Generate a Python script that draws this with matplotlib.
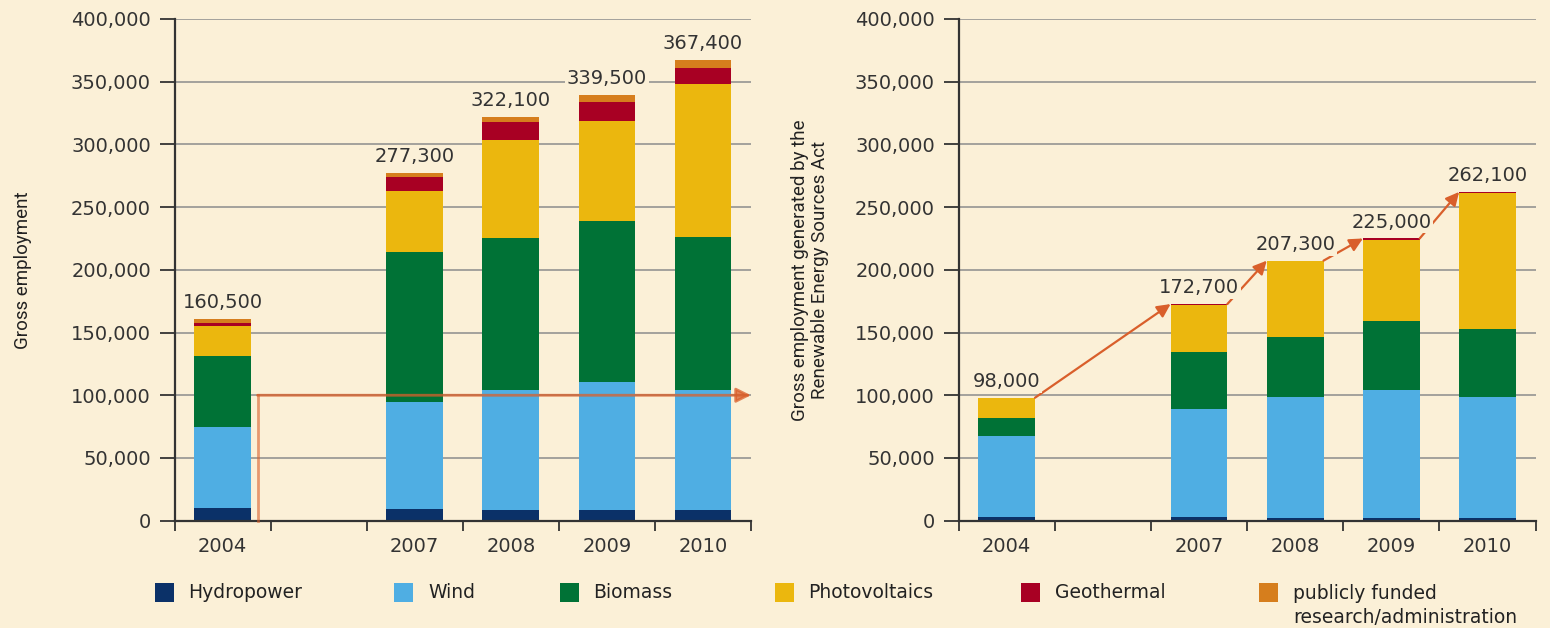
import numpy as np
import matplotlib
matplotlib.use("Agg")
import matplotlib.pyplot as plt
from matplotlib.patches import Rectangle
from matplotlib.ticker import FuncFormatter

# categories (slot 1 stays empty: gap for 2005/2006)
years = ['2004', '2007', '2008', '2009', '2010']
slots = [0, 2, 3, 4, 5]

# gross employment by source (persons)
gross_hydro = [10100, 9100, 8300, 8300, 8300]
gross_wind = [64600, 85800, 95900, 102000, 95900]
gross_biomass = [56600, 119300, 121400, 128400, 122200]
gross_pv = [24200, 48900, 77700, 80200, 121500]
gross_geo = [1900, 10700, 14800, 14900, 13100]
gross_research = [3100, 3500, 4000, 5700, 6400]

# employment generated by the Renewable Energy Sources Act
eeg_hydro = [3200, 3200, 1900, 1900, 1900]
eeg_wind = [64600, 85600, 96500, 102300, 96500]
eeg_biomass = [13800, 45500, 47800, 55000, 54700]
eeg_pv = [16100, 38000, 60600, 64300, 108400]
eeg_geo = [300, 400, 500, 1500, 600]

legend_labels = ['Hydropower', 'Wind', 'Biomass', 'Photovoltaics', 'Geothermal',
                 'publicly funded\nresearch/administration']
colors = ['#0b3168', '#4faee3', '#007236', '#ebb70e', '#a80023', '#d67e1d']

BG = '#fbf0d7'
DARK = '#333333'
ARROW = '#d95f2b'
BAR_W = 0.59

plt.rcParams['font.family'] = ['DejaVu Sans']

fig = plt.figure(figsize=(15.5, 6.28), dpi=100, facecolor=BG)
ax1 = fig.add_axes([0.1126, 0.1709, 0.3719, 0.7989])
ax2 = fig.add_axes([0.6184, 0.1709, 0.3723, 0.7989])


def style_axis(ax):
    ax.set_facecolor(BG)
    ax.set_xlim(-0.5, 5.5)
    ax.set_ylim(0, 400000)
    ax.set_yticks(np.arange(0, 400001, 50000))
    ax.yaxis.set_major_formatter(FuncFormatter(lambda v, p: f'{v:,.0f}'))
    ax.set_xticks(slots)
    ax.set_xticklabels(years)
    ax.set_xticks(np.arange(-0.5, 6, 1), minor=True)
    ax.tick_params(axis='x', which='major', length=0, pad=12, labelsize=14, labelcolor=DARK)
    ax.tick_params(axis='x', which='minor', length=7, width=1.3, color=DARK, direction='out')
    ax.tick_params(axis='y', length=11, width=1.3, color=DARK, pad=6, labelsize=14,
                   labelcolor=DARK, direction='out')
    ax.grid(axis='y', color='#8c8c8c', lw=1.1)
    ax.set_axisbelow(True)
    for s in ['top', 'right']:
        ax.spines[s].set_visible(False)
    for s in ['left', 'bottom']:
        ax.spines[s].set_color(DARK)
        ax.spines[s].set_linewidth(1.6)


def stacked(ax, layers):
    bottom = np.zeros(len(slots))
    for vals, col in zip(layers, colors):
        ax.bar(slots, vals, BAR_W, bottom=bottom, color=col, zorder=2)
        bottom += np.array(vals)
    return bottom


def total_labels(ax, totals):
    for x, t in zip(slots, totals):
        ax.annotate(f'{int(round(t)):,}', (x, t), xytext=(0, 5), textcoords='offset points',
                    ha='center', va='bottom', fontsize=14, color=DARK, zorder=5,
                    bbox=dict(boxstyle='square,pad=0.1', fc=BG, ec='none'))


style_axis(ax1)
style_axis(ax2)

tot1 = stacked(ax1, [gross_hydro, gross_wind, gross_biomass, gross_pv, gross_geo, gross_research])
tot2 = stacked(ax2, [eeg_hydro, eeg_wind, eeg_biomass, eeg_pv, eeg_geo])
total_labels(ax1, tot1)
total_labels(ax2, tot2)

# left chart: bracket pointing over to the EEG chart
ax1.plot([0.364, 0.364], [0, 100000], color=ARROW, lw=2, alpha=0.6, zorder=3, clip_on=False)
ax1.annotate('', xy=(5.5, 100000), xytext=(0.364, 100000),
             arrowprops=dict(arrowstyle='-|>', color=ARROW, lw=2, alpha=0.75,
                             mutation_scale=22, shrinkA=0, shrinkB=0),
             zorder=3, annotation_clip=False)

# right chart: growth arrows from bar top to next bar top
for i in range(len(slots) - 1):
    ax2.annotate('', xy=(slots[i + 1] - BAR_W / 2, tot2[i + 1]),
                 xytext=(slots[i] + BAR_W / 2, tot2[i]),
                 arrowprops=dict(arrowstyle='-|>', color=ARROW, lw=1.6,
                                 mutation_scale=20, shrinkA=0, shrinkB=0),
                 zorder=4)

narrow = ['Roboto', 'DejaVu Sans']
fig.text(23 / 1550, 0.570, 'Gross employment', rotation=90, ha='center', va='center',
         fontsize=13.5, family=narrow, color='#222222')
fig.text(810 / 1550, 0.570, 'Gross employment generated by the\nRenewable Energy Sources Act',
         rotation=90, ha='center', va='center', fontsize=13.5, family=narrow,
         color='#222222', linespacing=1.2)

# legend row
sq_x = [154.5, 394, 559.5, 774.6, 1021, 1259]
for x, lab, col in zip(sq_x, legend_labels, colors):
    fig.patches.append(Rectangle((x / 1550, (628 - 602) / 628), 19 / 1550, 19 / 628,
                                 transform=fig.transFigure, fc=col, ec='none'))
    yc = 605.5 if '\n' in lab else 592.5
    fig.text((x + 34) / 1550, (628 - yc) / 628, lab, ha='left', va='center',
             fontsize=13.5, color='#222222', linespacing=1.3)

fig.savefig('out.png', dpi=100, facecolor=BG)
